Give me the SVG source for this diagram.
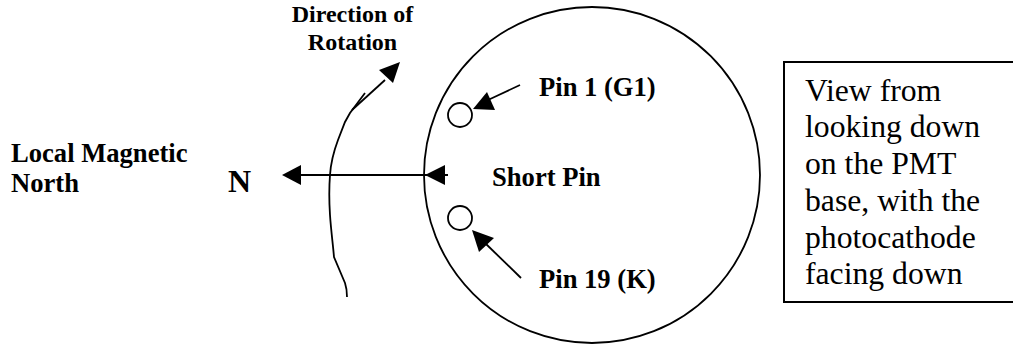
<svg xmlns="http://www.w3.org/2000/svg" width="1013" height="346" viewBox="0 0 1013 346">
<style>
.l{fill:none;stroke:#000;stroke-width:1.8}
.h{fill:#000;stroke:none}
.b{font-family:"Liberation Serif",serif;font-weight:bold;font-size:26.6px;fill:#000}
.s{font-size:24px}
.n{font-size:32px}
.t{font-family:"Liberation Serif",serif;font-size:31.7px;fill:#000}
</style>
<rect width="1013" height="346" fill="#fff"/>
<g id="body"><circle class="l" cx="592" cy="175" r="168"/></g>
<g id="pin1"><circle class="l" cx="460" cy="115" r="12"/><text class="b" x="539" y="96">Pin 1 (G1)</text></g>
<g id="pin19"><circle class="l" cx="460" cy="218" r="12"/><text class="b" x="539" y="288">Pin 19 (K)</text></g>
<g id="short"><text class="b" x="492" y="186">Short Pin</text></g>
<g id="north"><text class="b" x="11" y="162">Local Magnetic</text><text class="b" x="11" y="192">North</text><text class="b n" x="228" y="192">N</text></g>
<g id="rotation"><text class="b s" x="352.5" y="22" text-anchor="middle">Direction of</text><text class="b s" x="352.5" y="50" text-anchor="middle">Rotation</text></g>
<g id="note"><rect x="784" y="62" width="240" height="240" fill="none" stroke="#000" stroke-width="2"/>
<text class="t"><tspan x="805" y="101">View from</tspan><tspan x="805" y="137">looking down</tspan><tspan x="805" y="174">on the PMT</tspan><tspan x="805" y="211">base, with the</tspan><tspan x="805" y="248">photocathode</tspan><tspan x="805" y="284">facing down</tspan></text></g>
<g id="connectors">
<path class="l" d="M448 175H298"/><path class="h" d="M282 175L301 165V185Z"/>
<path class="h" d="M425 175L445 165V185Z"/>
<path class="l" d="M520 85L488 100"/><path class="h" d="M473 109L487 92L495 110Z"/>
<path class="l" d="M521 278L485 243"/><path class="h" d="M472 230L494 238L479 252Z"/>
<path class="l" d="M347 297C347 290 346 286 345 283L334 257C333 245 331 230 330 215C329 200 329 188 330 175C331 160 335 148 338 140L345 122L350 113L365 93"/>
<path class="l" d="M352 110L385 80"/><path class="h" d="M400 62L393 83L379 70Z"/>
</g>
</svg>
